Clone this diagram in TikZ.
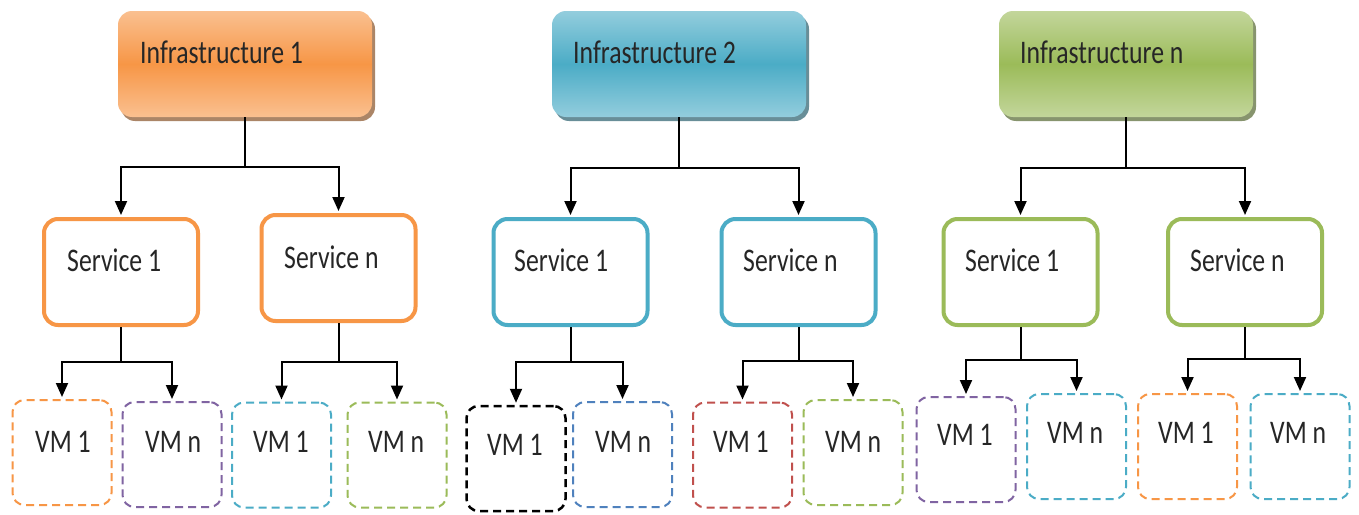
\documentclass[tikz,border=0pt]{standalone}
\usepackage{fontspec}
\setmainfont{Carlito}[FakeStretch=0.78]
\usetikzlibrary{arrows.meta,shadows}
\definecolor{oOrange}{HTML}{F79646}
\definecolor{oOrangeL}{HTML}{FAC090}
\definecolor{oBlue}{HTML}{4BACC6}
\definecolor{oBlueL}{HTML}{93CDDD}
\definecolor{oGreen}{HTML}{9BBB59}
\definecolor{oGreenL}{HTML}{C3D69B}
\definecolor{oPurple}{HTML}{8064A2}
\definecolor{oRed}{HTML}{C0504D}
\definecolor{oNavy}{HTML}{4F81BD}
\definecolor{txt}{HTML}{262626}
\begin{document}
\begin{tikzpicture}[x=1pt,y=-1pt,
  lbl/.style={anchor=base west, inner sep=0pt, text=txt, font=\fontsize{33}{36}\selectfont},
  infra/.style n args={2}{rounded corners=14pt, minimum width=254pt, minimum height=106pt, inner sep=0pt,
     top color=#2, bottom color=#2, middle color=#1,
     drop shadow={shadow xshift=3pt, shadow yshift=-4pt, fill=#1!55!black, opacity=0.7}},
  svc/.style={draw=#1, line width=4pt, rounded corners=14pt, minimum width=154pt, minimum height=106pt, inner sep=0pt, fill=white},
  vm/.style={draw=#1, line width=2pt, dash pattern=on 8pt off 5pt, rounded corners=12pt, minimum width=99pt, minimum height=105pt, inner sep=0pt},
  conn/.style={line width=2pt, draw=black},
  arr/.style={conn, -{Triangle[length=14pt,width=12pt]}, shorten >=2pt}]
\useasboundingbox (0,0) rectangle (1359,514);
\fill[white] (0,0) rectangle (1359,514);

% ---------- infrastructures
\node[infra={oOrange}{oOrangeL}] (i1) at (245,64) {};
\node[infra={oBlue}{oBlueL}] (i2) at (679,64) {};
\node[infra={oGreen}{oGreenL}] (i3) at (1126,64) {};
\node[lbl] (ti1) at (140,63) {Infrastructure 1};
\node[lbl] (ti2) at (573,63) {Infrastructure 2};
\node[lbl] (ti3) at (1020,63) {Infrastructure n};

% ---------- services
\node[svc=oOrange] (s11) at (121,272) {};
\node[svc=oOrange] (s1n) at (338.5,268) {};
\node[svc=oBlue] (s21) at (570.5,272) {};
\node[svc=oBlue] (s2n) at (798.5,272) {};
\node[svc=oGreen] (s31) at (1020.5,272) {};
\node[svc=oGreen] (s3n) at (1245,272) {};
\node[lbl] (ts11) at (67,271) {Service 1};
\node[lbl] (ts1n) at (284,268) {Service n};
\node[lbl] (ts21) at (514,271) {Service 1};
\node[lbl] (ts2n) at (743,271) {Service n};
\node[lbl] (ts31) at (965,271) {Service 1};
\node[lbl] (ts3n) at (1190,271) {Service n};

% ---------- VMs
\node[vm=oOrange] (v111) at (62,452.5) {};
\node[vm=oPurple] (v11n) at (172,454.5) {};
\node[vm=oBlue] (v1n1) at (281.5,455) {};
\node[vm=oGreen] (v1nn) at (397,455) {};
\node[vm=black, line width=2.5pt] (v211) at (516,458.5) {};
\node[vm=oNavy] (v21n) at (622.5,454.5) {};
\node[vm=oRed] (v2n1) at (742.5,455) {};
\node[vm=oGreen] (v2nn) at (853,452.5) {};
\node[vm=oPurple] (v311) at (966,449.5) {};
\node[vm=oBlue] (v31n) at (1076.5,446.5) {};
\node[vm=oOrange] (v3n1) at (1187.5,446.5) {};
\node[vm=oBlue] (v3nn) at (1300,446.5) {};
\node[lbl] (tv111) at (35,452) {VM 1};
\node[lbl] (tv11n) at (145,452) {VM n};
\node[lbl] (tv1n1) at (253,452) {VM 1};
\node[lbl] (tv1nn) at (368,452) {VM n};
\node[lbl] (tv211) at (487,455) {VM 1};
\node[lbl] (tv21n) at (595,452) {VM n};
\node[lbl] (tv2n1) at (713,452) {VM 1};
\node[lbl] (tv2nn) at (825,452) {VM n};
\node[lbl] (tv311) at (937,445) {VM 1};
\node[lbl] (tv31n) at (1047,443) {VM n};
\node[lbl] (tv3n1) at (1158,443) {VM 1};
\node[lbl] (tv3nn) at (1270,443) {VM n};

% ---------- connectors: infrastructure -> services
\path (i1.south) ++(0,50) coordinate (j1);
\path (i2.south) ++(0,51) coordinate (j2);
\path (i3.south) ++(0,51) coordinate (j3);
\draw[conn] (i1.south) -- (j1);
\draw[arr] (j1) -| (s11.north);
\draw[arr] (j1) -| (s1n.north);
\draw[conn] (i2.south) -- (j2);
\draw[arr] (j2) -| (s21.north);
\draw[arr] (j2) -| (s2n.north);
\draw[conn] (i3.south) -- (j3);
\draw[arr] (j3) -| (s31.north);
\draw[arr] (j3) -| (s3n.north);

% ---------- connectors: services -> VMs
\path (s11.south) ++(0,35) coordinate (k11);
\path (s1n.south) ++(0,39) coordinate (k1n);
\path (s21.south) ++(0,35) coordinate (k21);
\path (s2n.south) ++(0,34) coordinate (k2n);
\path (s31.south) ++(0,33) coordinate (k31);
\path (s3n.south) ++(0,32) coordinate (k3n);
\draw[conn] (s11.south) -- (k11);
\draw[arr] (k11) -| (v111.north);
\draw[arr] (k11) -| (v11n.north);
\draw[conn] (s1n.south) -- (k1n);
\draw[arr] (k1n) -| (v1n1.north);
\draw[arr] (k1n) -| (v1nn.north);
\draw[conn] (s21.south) -- (k21);
\draw[arr] (k21) -| (v211.north);
\draw[arr] (k21) -| (v21n.north);
\draw[conn] (s2n.south) -- (k2n);
\draw[arr] (k2n) -| (v2n1.north);
\draw[arr] (k2n) -| (v2nn.north);
\draw[conn] (s31.south) -- (k31);
\draw[arr] (k31) -| (v311.north);
\draw[arr] (k31) -| (v31n.north);
\draw[conn] (s3n.south) -- (k3n);
\draw[arr] (k3n) -| (v3n1.north);
\draw[arr] (k3n) -| (v3nn.north);
\end{tikzpicture}
\end{document}
